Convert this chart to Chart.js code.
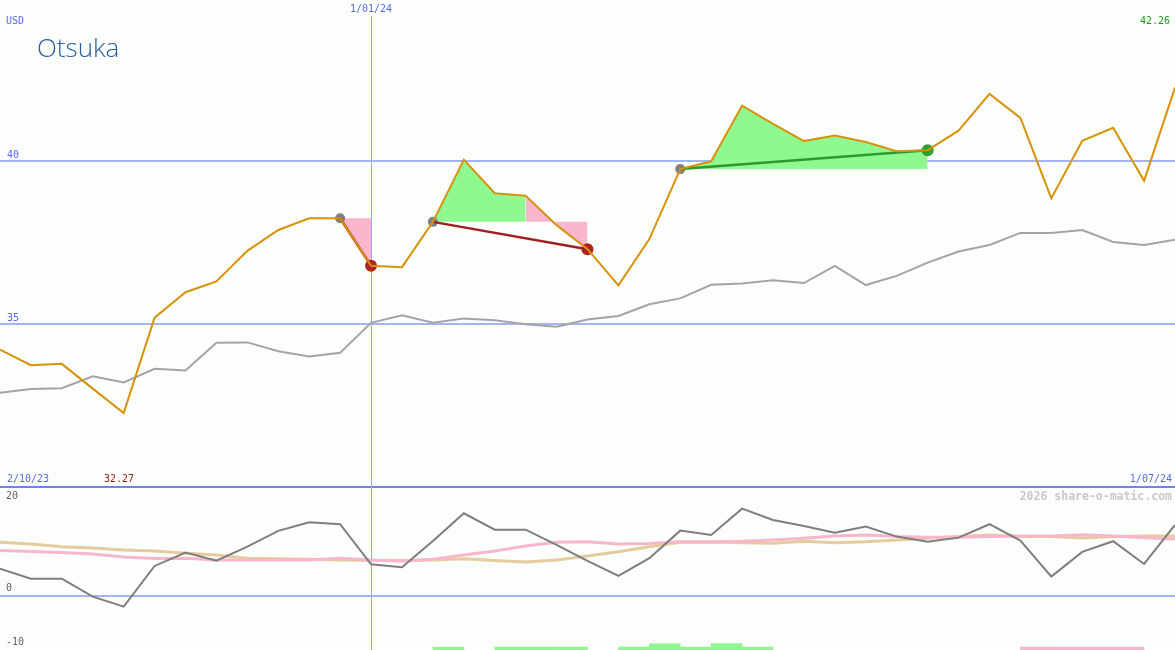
<!DOCTYPE html>
<html>
<head>
<meta charset="utf-8">
<script src="https://cdn.jsdelivr.net/npm/chart.js@4.4.1/dist/chart.umd.min.js"></script>
<style>
html, body { margin: 0; padding: 0; background: #fcfefc; overflow: hidden; }
#wrap { position: relative; width: 1175px; height: 650px; overflow: hidden; }
#c { position: absolute; left: 0; top: 0; }
.t { position: absolute; font-family: 'DejaVu Sans Mono', monospace; font-size: 10px; line-height: 12px; white-space: nowrap; }
#title { position: absolute; left: 37px; top: 34px; font-family: 'Open Sans', sans-serif; font-weight: 350; font-size: 26px; line-height: 26px; color: #2b60a2; white-space: nowrap; }
#mark { position: absolute; right: 3px; top: 489px; font-family: 'DejaVu Sans Mono', monospace; font-weight: bold; font-size: 11.5px; line-height: 14px; color: #c8c8c8; white-space: nowrap; }
</style>
</head>
<body>
<div id="wrap">
  <canvas id="c" width="1175" height="650"></canvas>
  <div class="t" id="currency" style="left:6px; top:15px; color:#5868f0;"></div>
  <div id="title"></div>
  <div class="t" id="lastVal" style="right:5px; top:15px; color:#1f9a1f;"></div>
  <div class="t" id="rangeStart" style="left:7px; top:473px; color:#5868f0;"></div>
  <div class="t" id="minVal" style="left:104px; top:473px; color:#a02020;"></div>
  <div class="t" id="rangeEnd" style="right:3px; top:473px; color:#5868f0;"></div>
  <div id="mark"></div>
</div>
<script>
// ---------- data ----------
const stockName = 'Otsuka';
const currency = 'USD';
const watermark = '2026 share-o-matic.com';
const dates = ['9/10/23','16/10/23','23/10/23','30/10/23','6/11/23','13/11/23','20/11/23','27/11/23','4/12/23','11/12/23','18/12/23','25/12/23',
  '1/01/24','8/01/24','15/01/24','22/01/24','29/01/24','5/02/24','12/02/24','19/02/24','26/02/24','4/03/24','11/03/24','18/03/24','25/03/24',
  '1/04/24','8/04/24','15/04/24','22/04/24','29/04/24','6/05/24','13/05/24','20/05/24','27/05/24','3/06/24','10/06/24','17/06/24','24/06/24','1/07/24'];
const rangeLabels = ['2/10/23', '1/07/24'];
const markerDates = ['1/01/24'];
const priceTicks = [30, 35, 40];
const momentumTicks = [20, 0, -10];

const price = [34.22, 33.74, 33.78, 33.02, 32.27, 35.20, 35.98, 36.31, 37.25, 37.89, 38.25, 38.25, 36.79, 36.75, 38.14, 40.05, 39.02, 38.94, 38.04, 37.30,
  36.19, 37.61, 39.76, 40.00, 41.71, 41.15, 40.62, 40.79, 40.59, 40.31, 40.34, 40.94, 42.07, 41.33, 38.86, 40.63, 41.03, 39.40, 42.26];
const benchmark = [32.89, 33.01, 33.03, 33.40, 33.21, 33.63, 33.58, 34.43, 34.44, 34.17, 34.01, 34.12, 35.04, 35.27, 35.04, 35.17, 35.12, 35.00, 34.92, 35.14,
  35.25, 35.61, 35.79, 36.21, 36.25, 36.35, 36.26, 36.79, 36.20, 36.48, 36.89, 37.23, 37.43, 37.80, 37.80, 37.89, 37.52, 37.43, 37.59];

const momentum = [4.97, 3.13, 3.13, -0.18, -2.03, 5.47, 7.92, 6.45, 9.02, 11.92, 13.52, 13.15, 5.78, 5.23, 10.07, 15.17, 12.15, 12.15, 9.34, 6.39,
  3.63, 6.89, 11.97, 11.18, 16.02, 13.94, 12.84, 11.60, 12.71, 10.87, 9.94, 10.68, 13.15, 10.13, 3.50, 8.05, 10.02, 5.84, 13.02];
const fastAvg = [8.29, 8.14, 7.96, 7.68, 7.13, 6.85, 6.89, 6.57, 6.57, 6.57, 6.57, 6.89, 6.57, 6.34, 6.70, 7.50, 8.23, 9.15, 9.83, 9.94,
  9.52, 9.58, 9.94, 9.94, 10.02, 10.26, 10.57, 10.99, 11.18, 10.87, 10.76, 10.76, 10.87, 10.99, 10.99, 11.23, 10.99, 10.68, 10.44];
const slowAvg = [9.83, 9.52, 9.02, 8.78, 8.42, 8.23, 7.81, 7.50, 6.89, 6.80, 6.70, 6.57, 6.45, 6.45, 6.57, 6.81, 6.45, 6.21, 6.57, 7.31,
  8.10, 9.02, 9.83, 9.89, 9.76, 9.65, 10.02, 9.76, 9.94, 10.26, 10.57, 10.87, 11.18, 10.87, 10.87, 10.63, 10.87, 10.99, 10.99];

// signal bars, one per weekly interval (interval i runs from week i to week i+1)
const buySignal = [null,null,null,null,null,null,null,null,null,null,null,null,null,null,-9.45,null,-9.45,-9.45,-9.45,null,
  -9.45,-8.84,-9.45,-8.84,-9.45,null,null,null,null,null,null,null,null,null,null,null,null,null];
const sellSignal = [null,null,null,null,null,null,null,null,null,null,null,null,null,null,null,null,null,null,null,null,
  null,null,null,null,null,null,null,null,null,null,null,null,null,-9.45,-9.45,-9.45,-9.45,null];

// trades (week indices)
const tradeEntry = [11, 14, 22];
const tradeExit = [12, 19, 30];
const gainSpans = [[14, 17], [22, 30]];
const lossSpans = [[11, 12], [17, 19]];

// ---------- styles ----------
const COL = {
  price: '#d8920a', bench: '#a4a4a4', mom: '#7e7e7e', fast: '#f8b6ca', slow: '#e4cc9c',
  gainFill: '#90f890', lossFill: '#f9b6cc', upLine: '#2a9a2a', downLine: '#a21e22',
  upDot: '#2ea02e', downDot: '#b02424', entry: '#808080',
  blue: '#5868f0', grid: '#a4b4f2', divider: '#7282e8', vline: '#94a6f2', tick2: '#606060'
};
const MONO = 'DejaVu Sans Mono';

// ---------- texts ----------
document.getElementById('currency').textContent = currency;
document.getElementById('title').textContent = stockName;
document.getElementById('lastVal').textContent = price[price.length - 1].toFixed(2);
document.getElementById('minVal').textContent = Math.min(...price).toFixed(2);
document.getElementById('rangeStart').textContent = rangeLabels[0];
document.getElementById('rangeEnd').textContent = rangeLabels[1];
document.getElementById('mark').textContent = watermark;

// ---------- datasets ----------
const pts = arr => arr.map((v, i) => ({x: i, y: v}));
const spanPts = s => { const o = []; for (let i = s[0]; i <= s[1]; i++) o.push({x: i, y: price[i]}); return o; };
const spanBase = s => price[tradeEntry[tradeEntry.findIndex((e, k) => s[0] >= e && s[0] < tradeExit[k])]];
const none = 'rgba(0,0,0,0)';

const datasets = [];
datasets.push({type: 'line', yAxisID: 'y', data: pts(price), borderColor: COL.price, borderWidth: 2, pointRadius: 0, order: 0});
tradeEntry.forEach((e, k) => {
  const x = tradeExit[k];
  const up = price[x] >= price[e];
  datasets.push({type: 'line', yAxisID: 'y', data: [{x: e, y: price[e]}, {x: x, y: price[x]}],
    borderColor: up ? COL.upLine : COL.downLine, borderWidth: 2.5, pointRadius: 0, order: 1});
});
datasets.push({type: 'line', yAxisID: 'y', data: tradeEntry.map(i => ({x: i, y: price[i]})), showLine: false,
  pointRadius: 5, pointBackgroundColor: COL.entry, pointBorderWidth: 0, borderColor: none, order: 2});
datasets.push({type: 'line', yAxisID: 'y', data: tradeExit.map(i => ({x: i, y: price[i]})), showLine: false,
  pointRadius: 6, pointBackgroundColor: tradeExit.map((x, k) => price[x] >= price[tradeEntry[k]] ? COL.upDot : COL.downDot),
  pointBorderWidth: 0, borderColor: none, order: 2});
gainSpans.forEach(s => datasets.push({type: 'line', yAxisID: 'y', data: spanPts(s), borderColor: none, borderWidth: 0,
  pointRadius: 0, fill: {value: spanBase(s)}, backgroundColor: COL.gainFill, order: 3}));
lossSpans.forEach(s => datasets.push({type: 'line', yAxisID: 'y', data: spanPts(s), borderColor: none, borderWidth: 0,
  pointRadius: 0, fill: {value: spanBase(s)}, backgroundColor: COL.lossFill, order: 3}));
datasets.push({type: 'line', yAxisID: 'y', data: pts(benchmark), borderColor: COL.bench, borderWidth: 2, pointRadius: 0, order: 4});

// lower panel
datasets.push({type: 'line', yAxisID: 'y2', data: pts(momentum), borderColor: COL.mom, borderWidth: 2, pointRadius: 0, order: 0});
datasets.push({type: 'line', yAxisID: 'y2', data: pts(fastAvg), borderColor: COL.fast, borderWidth: 3, pointRadius: 0, order: 1});
datasets.push({type: 'line', yAxisID: 'y2', data: pts(slowAvg), borderColor: COL.slow, borderWidth: 3, pointRadius: 0, order: 2});
const barData = [], barColors = [];
buySignal.forEach((v, i) => { if (v !== null) { barData.push({x: i + 0.5, y: [-10.5, v]}); barColors.push(COL.gainFill); } });
sellSignal.forEach((v, i) => { if (v !== null) { barData.push({x: i + 0.5, y: [-10.5, v]}); barColors.push(COL.lossFill); } });
datasets.push({type: 'bar', yAxisID: 'y2', data: barData, backgroundColor: barColors, borderWidth: 0,
  barPercentage: 1, categoryPercentage: 1, order: 3});

// date marker line (through both panels) and lower panel tick labels, positioned by the chart's scales
const overlays = {
  id: 'overlays',
  beforeDatasetsDraw(chart) {
    const xs = chart.scales.x, area = chart.chartArea, ctx = chart.ctx;
    ctx.save();
    ctx.strokeStyle = COL.vline;
    ctx.lineWidth = 1;
    markerDates.forEach(d => {
      const px = Math.round(xs.getPixelForValue(dates.indexOf(d))) + 0.5;
      ctx.beginPath();
      ctx.moveTo(px, area.top);
      ctx.lineTo(px, area.bottom);
      ctx.stroke();
    });
    ctx.restore();
  },
  afterDraw(chart) {
    const s = chart.scales.y2, ctx = chart.ctx;
    ctx.save();
    ctx.font = '10px "' + MONO + '"';
    ctx.fillStyle = COL.tick2;
    ctx.textBaseline = 'middle';
    ctx.textAlign = 'left';
    s.ticks.forEach(t => {
      const p = s.getPixelForValue(t.value);
      ctx.fillText(String(t.value), 6, t.value === s.max ? p + 9 : p - 7.5);
    });
    ctx.restore();
  }
};

new Chart(document.getElementById('c'), {
  type: 'line',
  data: {datasets},
  plugins: [overlays],
  options: {
    responsive: false,
    animation: false,
    devicePixelRatio: 1,
    events: [],
    layout: {padding: 0, autoPadding: false},
    plugins: {legend: {display: false}, tooltip: {enabled: false}, title: {display: false}},
    scales: {
      x: {
        type: 'linear', position: 'top', min: 0, max: dates.length - 1, offset: false,
        afterBuildTicks: a => { a.ticks = markerDates.map(d => ({value: dates.indexOf(d)})); },
        afterFit: a => { a.height = 16; a.paddingLeft = 0; a.paddingRight = 0; },
        ticks: {autoSkip: false, maxRotation: 0, padding: 1, color: COL.blue, font: {family: MONO, size: 10},
          callback: v => dates[v]},
        grid: {display: false, drawTicks: false},
        border: {display: false}
      },
      y: {
        type: 'linear', position: 'left', stack: 'panels', stackWeight: 471, weight: 2,
        min: 30, max: 44.46,
        afterBuildTicks: a => { a.ticks = priceTicks.map(v => ({value: v})); },
        afterFit: a => { a.width = 0; a.paddingTop = 0; a.paddingBottom = 0; },
        ticks: {mirror: true, padding: 7, labelOffset: -6, autoSkip: false, color: COL.blue, font: {family: MONO, size: 10},
          callback: v => v === priceTicks[0] ? '' : String(v)},
        grid: {drawTicks: false, lineWidth: 2, color: c => c.tick && c.tick.value === priceTicks[0] ? COL.divider : COL.grid},
        border: {display: false}
      },
      y2: {
        type: 'linear', position: 'left', stack: 'panels', stackWeight: 163, weight: 1,
        min: -10, max: 20,
        afterBuildTicks: a => { a.ticks = momentumTicks.map(v => ({value: v})); },
        afterFit: a => { a.width = 0; a.paddingTop = 0; a.paddingBottom = 0; },
        ticks: {display: false},
        grid: {drawTicks: false, lineWidth: 2, color: c => c.tick && c.tick.value === 0 ? COL.grid : none},
        border: {display: false}
      }
    }
  }
});
</script>
</body>
</html>
